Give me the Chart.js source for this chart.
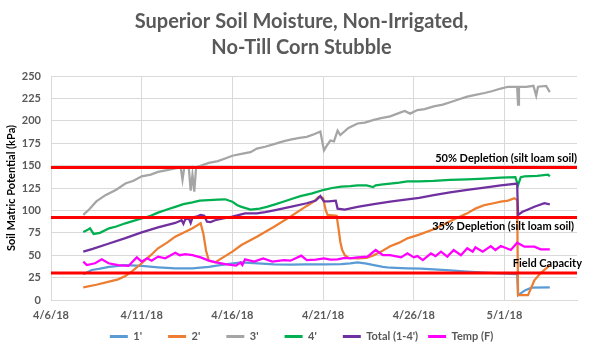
<!DOCTYPE html>
<html>
<head>
<meta charset="utf-8">
<script src="https://cdn.jsdelivr.net/npm/chart.js@4.4.1/dist/chart.umd.min.js"></script>
<style>
  html, body { margin: 0; padding: 0; background: #fff; }
  #wrap { width: 603px; height: 352px; }
</style>
</head>
<body>
<div id="wrap"><canvas id="chart1"></canvas></div>
<script>
// days counted from 4/6/18 00:00
const startDate = new Date(2018, 3, 6);
const xMax = 29;

// 1' sensor
const days1 = [1.78, 2.25, 2.7, 3.2, 4.1, 5.0, 5.9, 6.85, 7.8, 8.7, 9.6, 10.5, 11.4, 12.3, 13.2, 14.1, 15.05, 16.0, 16.5, 16.9, 17.4, 17.8, 18.3, 18.7, 19.65, 20.4, 21.1, 22.0, 22.95, 23.9, 24.8, 25.7, 25.75, 26.15, 26.5, 27.5];
const soil1 = [28.7, 33.5, 35, 37, 39, 38, 36.5, 35.3, 35.3, 37, 39.8, 42, 41, 39.8, 39.5, 39.8, 39.8, 40, 41, 42, 40.5, 39, 37, 36, 35.3, 35, 34.2, 33, 31.6, 30.5, 29.8, 29, 5.5, 11, 13.7, 14];

// 2' sensor
const days2 = [1.78, 2.5, 3.2, 3.7, 4.1, 4.45, 5.0, 5.5, 5.9, 6.4, 6.85, 7.3, 7.8, 8.25, 8.4, 8.55, 8.7, 9.05, 9.6, 10.0, 10.5, 11.35, 12.3, 13.2, 14.1, 14.5, 14.75, 15.0, 15.15, 15.25, 15.75, 15.85, 15.95, 16.05, 16.2, 16.4, 16.9, 17.4, 17.8, 18.2, 18.7, 19.2, 19.65, 20.3, 21.1, 22.0, 22.95, 23.4, 23.9, 24.4, 24.8, 25.2, 25.55, 25.7, 25.75, 26.3, 26.65, 27.0, 27.4, 27.5];
const soil2 = [14, 17, 20.5, 23, 26.8, 31.6, 41, 50, 57.7, 64, 70.7, 75, 80, 85.6, 74, 55, 44, 42, 49, 54, 61.4, 70.7, 81.8, 93, 105, 110, 115, 114, 100, 95, 94, 80, 65, 56, 50, 47, 46.5, 47, 50, 54, 60, 64, 68.8, 73, 79, 88, 96.7, 102, 106, 108, 109.7, 111, 113.5, 111.6, 5.5, 5.5, 22, 30, 37, 39];

// 3' sensor
const days3 = [1.78, 2.1, 2.5, 3.0, 3.6, 4.1, 4.55, 5.0, 5.5, 5.9, 6.4, 6.85, 7.15, 7.25, 7.35, 7.6, 7.7, 7.8, 7.9, 8.0, 8.7, 9.2, 9.6, 10.0, 10.5, 11.0, 11.35, 11.8, 12.3, 12.8, 13.2, 13.7, 14.1, 14.5, 14.85, 15.05, 15.2, 15.4, 15.6, 15.8, 15.95, 16.4, 16.9, 17.3, 17.8, 18.2, 18.7, 19.1, 19.5, 19.8, 20.2, 20.6, 21.1, 21.6, 22.05, 22.5, 22.95, 23.4, 23.9, 24.3, 24.8, 25.2, 25.7, 25.75, 25.8, 26.2, 26.6, 26.75, 26.85, 27.3, 27.5];
const soil3 = [95, 101, 110, 117, 123, 130, 133, 138, 140, 143, 145, 147, 148, 134, 148, 147, 122, 140, 121, 148, 153, 155, 158, 161, 163, 165, 169, 171, 174, 177, 179, 181, 182, 185, 188, 167, 172, 178, 177, 189, 184, 192, 197, 198, 201, 203, 205, 208, 211, 208, 212, 213, 216, 218, 221, 224, 227, 229, 231, 233, 236, 238, 238, 218, 238, 238, 239, 228, 238, 239, 232];

// 4' sensor
const days4 = [1.78, 2.0, 2.15, 2.35, 2.7, 3.2, 3.6, 4.1, 4.5, 5.0, 5.5, 5.9, 6.4, 6.85, 7.3, 7.8, 8.2, 8.7, 9.2, 9.6, 9.8, 10.0, 10.25, 10.5, 11.0, 11.5, 11.9, 12.4, 12.8, 13.3, 13.75, 14.4, 15.05, 15.5, 16.0, 16.5, 16.9, 17.4, 17.75, 17.9, 18.3, 18.7, 19.2, 19.65, 20.3, 21.1, 22.0, 22.95, 23.9, 24.8, 25.6, 25.75, 25.9, 26.1, 26.8, 27.4, 27.5];
const soil4 = [76, 78, 80, 73.7, 75, 80, 82, 85.6, 88, 91, 94, 97.5, 101, 104, 107, 109, 111, 111.6, 112, 112.4, 111, 109.7, 106, 104, 101, 102, 104, 107, 109.7, 113, 116, 119, 123, 125, 126.5, 127, 128, 128, 126, 128, 129, 130, 131, 132.5, 132.5, 133, 134, 134.7, 135.5, 136.5, 137, 128, 137, 138, 138.5, 140, 138];

// Total (1-4')
const daysTotal = [1.78, 2.3, 3.2, 4.1, 5.0, 5.9, 6.85, 7.2, 7.3, 7.4, 7.6, 7.7, 7.8, 8.0, 8.25, 8.45, 8.6, 8.8, 9.05, 9.5, 10.0, 10.7, 11.35, 11.8, 12.3, 13.2, 14.1, 14.6, 14.85, 15.05, 15.3, 15.7, 15.8, 16.2, 16.9, 17.8, 18.7, 19.65, 20.3, 21.1, 22.0, 22.95, 23.9, 24.8, 25.7, 25.75, 26.0, 26.3, 26.65, 27.2, 27.5];
const total = [54, 57, 63, 69, 75.5, 81, 86, 89, 85, 90, 91, 86, 92, 93, 95, 94, 87.4, 87, 89, 91, 93, 96.7, 96.7, 98, 100, 104, 108, 111, 116, 110, 110, 110.8, 102, 101, 104, 107, 109.7, 112.4, 114, 117, 120, 122.8, 125.5, 128, 130, 95, 98.5, 101, 104, 108, 106.8];

// Temp (F)
const daysTemp = [1.78, 1.97, 2.43, 2.8, 3.17, 3.7, 4.27, 4.73, 5.0, 5.3, 5.55, 5.9, 6.3, 6.85, 7.1, 7.4, 7.8, 8.25, 8.7, 9.1, 9.6, 10.2, 10.45, 10.55, 10.7, 11.2, 11.7, 12.2, 12.85, 13.2, 13.8, 14.1, 14.6, 15.05, 15.4, 15.8, 16.2, 16.5, 16.9, 17.45, 17.9, 18.3, 18.7, 19.3, 19.65, 20.0, 20.2, 20.5, 20.95, 21.2, 21.5, 21.85, 22.2, 22.6, 22.95, 23.25, 23.4, 23.8, 24.25, 24.5, 24.8, 25.35, 25.7, 26.1, 26.65, 27.0, 27.5];
const temp = [42.8, 39, 41, 45.4, 41, 39, 38, 47.6, 42.8, 46.5, 43.9, 48.4, 46.5, 52.8, 50, 51.3, 50, 47.6, 43.9, 42, 40, 38.3, 41.7, 39, 45.4, 42.8, 46.5, 42.8, 44.6, 43.9, 49.5, 44.6, 45, 46.5, 45, 45.4, 47, 46.5, 47.6, 48.4, 55.8, 50, 50, 47.6, 52, 47.6, 49, 44.6, 52, 49, 54, 48.4, 55.8, 50, 57.7, 54, 58.8, 54, 60.2, 55.8, 60.2, 55.8, 64, 59.5, 59.5, 56.5, 56.5];

// reference lines (kPa)
const depletion50 = 148;
const depletion35 = 92;
const fieldCapacity = 30;

const gray = '#595959';
const gridColor = '#d9d9d9';

function pts(days, vals) {
    return days.map((d, i) => ({ x: d, y: vals[i] }));
}

function fmtDate(d) {
    const dt = new Date(startDate.getTime() + d * 86400000);
    return (dt.getMonth() + 1) + '/' + dt.getDate() + '/' + String(dt.getFullYear()).slice(2);
}

// red threshold lines + their labels, drawn on top of the series
const thresholdPlugin = {
    id: 'thresholds',
    afterDatasetsDraw(chart) {
        const ctx = chart.ctx;
        const area = chart.chartArea;
        const y = chart.scales.y;
        ctx.save();
        ctx.strokeStyle = '#ff0000';
        ctx.lineWidth = 3;
        [depletion50, depletion35, fieldCapacity].forEach(v => {
            const py = y.getPixelForValue(v);
            ctx.beginPath();
            ctx.moveTo(area.left, py);
            ctx.lineTo(area.right, py);
            ctx.stroke();
        });
        ctx.fillStyle = '#000';
        ctx.font = 'bold 11px Lato';
        ctx.textAlign = 'right';
        ctx.textBaseline = 'middle';
        ctx.fillText('50% Depletion (silt loam soil)', area.right, y.getPixelForValue(depletion50) - 9);
        ctx.fillText('35% Depletion (silt loam soil)', area.right - 3, y.getPixelForValue(depletion35) + 9);
        ctx.fillText('Field Capacity', area.right + 5, y.getPixelForValue(fieldCapacity) - 10);
        ctx.restore();
    }
};

const ctx = document.getElementById('chart1').getContext('2d');

const myChart = new Chart(ctx, {
    type: 'line',
    data: {
        datasets: [
            { label: "1'", data: pts(days1, soil1), borderColor: '#5b9bd5', order: 6 },
            { label: "2'", data: pts(days2, soil2), borderColor: '#ed7d31', order: 5 },
            { label: "3'", data: pts(days3, soil3), borderColor: '#a5a5a5', order: 4 },
            { label: "4'", data: pts(days4, soil4), borderColor: '#00b050', order: 3 },
            { label: "Total (1-4')", data: pts(daysTotal, total), borderColor: '#7030a0', order: 2 },
            { label: 'Temp (F)', data: pts(daysTemp, temp), borderColor: '#ff00ff', order: 1 }
        ]
    },
    options: {
        responsive: true,
        maintainAspectRatio: false,
        animation: false,
        layout: { padding: 0 },
        elements: {
            point: { radius: 0 },
            line: { borderWidth: 2.25, tension: 0, fill: false }
        },
        plugins: {
            title: {
                display: true,
                text: ['Superior Soil Moisture, Non-Irrigated,', 'No-Till Corn Stubble'],
                color: gray,
                font: { family: 'Lato', size: 20, weight: 'bold', lineHeight: 1.3 },
                padding: { top: 9, bottom: 15 }
            },
            legend: {
                position: 'bottom',
                labels: {
                    color: gray,
                    font: { family: 'Lato', size: 11, weight: 'bold' },
                    usePointStyle: true,
                    pointStyle: 'line',
                    pointStyleWidth: 18,
                    padding: 10,
                    sort: (a, b) => a.datasetIndex - b.datasetIndex,
                    generateLabels(chart) {
                        const items = Chart.defaults.plugins.legend.labels.generateLabels(chart);
                        items.forEach(it => {
                            // short labels get wider slots, like the original legend
                            if (it.text.length < 3) it.text = it.text + '      ';
                            it.lineWidth = 3;
                        });
                        return items;
                    }
                }
            },
            tooltip: { enabled: false }
        },
        scales: {
            x: {
                type: 'linear',
                min: 0,
                max: xMax,
                afterFit: s => { s.height = 21; },
                grid: { color: gridColor, drawTicks: false },
                border: { color: gridColor },
                ticks: {
                    stepSize: 5,
                    includeBounds: false,
                    padding: 9,
                    color: gray,
                    font: { family: 'Lato', size: 11, weight: 'bold' },
                    maxRotation: 0,
                    callback: v => fmtDate(v)
                }
            },
            y: {
                min: 0,
                max: 250,
                afterFit: s => { s.width = 51; },
                grid: { color: gridColor, drawTicks: false },
                border: { color: gridColor },
                ticks: {
                    stepSize: 25,
                    padding: 10,
                    color: gray,
                    font: { family: 'Lato', size: 11, weight: 'bold' }
                },
                title: {
                    display: true,
                    text: 'Soil Matric Potential (kPa)',
                    color: '#000',
                    font: { family: 'Lato', size: 11, weight: 'bold' },
                    padding: { top: 5, bottom: 0 }
                }
            },
            // empty right-hand axis: only reserves the margin right of the plot
            yRight: {
                position: 'right',
                min: 0,
                max: 250,
                afterFit: s => { s.width = 26; },
                grid: { display: false, drawOnChartArea: false },
                border: { display: false },
                ticks: { display: false }
            }
        }
    },
    plugins: [thresholdPlugin]
});
</script>
</body>
</html>
